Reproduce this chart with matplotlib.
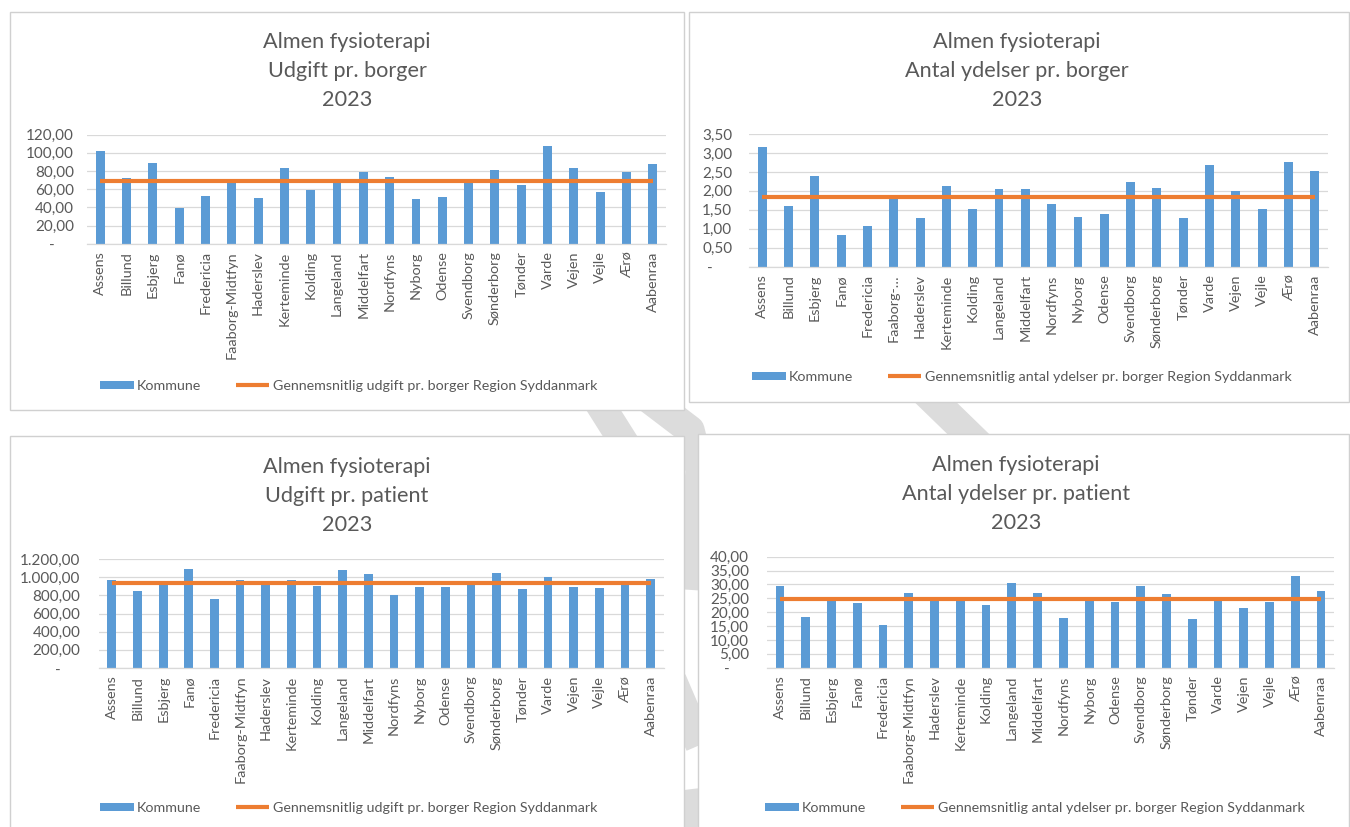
import matplotlib
matplotlib.use("Agg")
import matplotlib.pyplot as plt
from matplotlib.patches import Rectangle
from matplotlib.lines import Line2D

plt.rcParams['font.family'] = ['Lato', 'DejaVu Sans']

# ---------------- data ----------------
kommuner = ["Assens", "Billund", "Esbjerg", "Fanø", "Fredericia", "Faaborg-Midtfyn",
            "Haderslev", "Kerteminde", "Kolding", "Langeland", "Middelfart", "Nordfyns",
            "Nyborg", "Odense", "Svendborg", "Sønderborg", "Tønder", "Varde", "Vejen",
            "Vejle", "Ærø", "Aabenraa"]
kommuner_kort = ["Assens", "Billund", "Esbjerg", "Fanø", "Fredericia", "Faaborg-…",
                 "Haderslev", "Kerteminde", "Kolding", "Langeland", "Middelfart", "Nordfyns",
                 "Nyborg", "Odense", "Svendborg", "Sønderborg", "Tønder", "Varde", "Vejen",
                 "Vejle", "Ærø", "Aabenraa"]

udgift_borger = [102.4, 72.5, 88.6, 39.8, 52.3, 68.5, 50.5, 83.4, 58.8, 68.0, 78.7,
                 73.2, 48.9, 51.2, 68.2, 81.6, 64.3, 107.8, 83.4, 57.0, 78.7, 87.8]
gns_udgift_borger = 69.4

ydelser_borger = [3.15, 1.59, 2.38, 0.84, 1.07, 1.84, 1.29, 2.12, 1.51, 2.06, 2.06,
                  1.66, 1.32, 1.40, 2.23, 2.08, 1.29, 2.69, 1.99, 1.53, 2.77, 2.52]
gns_ydelser_borger = 1.83

udgift_patient = [965, 850, 935, 1088, 762, 967, 945, 967, 905, 1076, 1033, 806,
                  897, 887, 930, 1051, 868, 1007, 895, 878, 938, 978]
gns_udgift_patient = 939

ydelser_patient = [29.6, 18.3, 24.6, 23.3, 15.3, 26.9, 24.8, 24.6, 22.7, 30.5, 26.9,
                   18.0, 24.7, 23.8, 29.3, 26.6, 17.5, 24.8, 21.6, 23.8, 33.2, 27.8]
gns_ydelser_patient = 24.7

titler = ["Almen fysioterapi\nUdgift pr. borger\n2023",
          "Almen fysioterapi\nAntal ydelser pr. borger\n2023",
          "Almen fysioterapi\nUdgift pr. patient\n2023",
          "Almen fysioterapi\nAntal ydelser pr. patient\n2023"]
legend_bar = "Kommune"
legend_linjer = ["Gennemsnitlig udgift pr. borger Region Syddanmark",
                 "Gennemsnitlig antal ydelser pr. borger Region Syddanmark",
                 "Gennemsnitlig udgift pr. borger Region Syddanmark",
                 "Gennemsnitlig antal ydelser pr. borger Region Syddanmark"]
y_ticks = [[0, 20, 40, 60, 80, 100, 120],
           [0, 0.5, 1.0, 1.5, 2.0, 2.5, 3.0, 3.5],
           [0, 200, 400, 600, 800, 1000, 1200],
           [0, 5, 10, 15, 20, 25, 30, 35, 40]]

# ---------------- style ----------------
W, H = 1350, 827
BLUE = "#5B9BD5"
ORANGE = "#ED7D31"
GRID = "#D9D9D9"
TXT = "#595959"
BORDER = "#D0D0D0"
WM = "#DCDCDC"

fig = plt.figure(figsize=(W / 100, H / 100), dpi=100)
fig.patch.set_facecolor("white")


def fx(x):
    return x / W


def fy(y):
    return 1 - y / H


def fmt_dk(v):
    if v == 0:
        return "-     "
    s = f"{v:,.2f}"
    return s.replace(",", "X").replace(".", ",").replace("X", ".")


# decorative watermark arc (visible only in the gaps between the panels)
wm_paths = [
    [(594, 395), (630, 452)],
    [(640, 392), (690, 430), (700, 470), (692, 590)],
    [(925, 392), (995, 460)],
    [(672, 680), (700, 745)],
    [(684, 790), (690, 840)],
]
for p in wm_paths:
    xs = [fx(a) for a, b in p]
    ys = [fy(b) for a, b in p]
    fig.add_artist(Line2D(xs, ys, color=WM, lw=21, solid_capstyle="butt",
                          solid_joinstyle="round", zorder=0.2,
                          transform=fig.transFigure))

panels = [
    dict(box=(10, 12, 684, 410), ax=(87, 666, 134.7, 243.7), tx=347, ty=44,
         ly=386, lx=100, data=udgift_borger, gns=gns_udgift_borger,
         cats=kommuner, ypad=9.5),
    dict(box=(689, 12, 1349, 402), ax=(749, 1328, 134, 266.7), tx=1017, ty=44,
         ly=377, lx=752, data=ydelser_borger, gns=gns_ydelser_borger,
         cats=kommuner_kort, ypad=12),
    dict(box=(10, 436, 684, 830), ax=(99, 663.5, 559, 668), tx=347, ty=469,
         ly=808, lx=100, data=udgift_patient, gns=gns_udgift_patient,
         cats=kommuner, ypad=13.5),
    dict(box=(698, 434, 1349, 830), ax=(767, 1334, 556.7, 667.7), tx=1016, ty=467,
         ly=808, lx=765, data=ydelser_patient, gns=gns_ydelser_patient,
         cats=kommuner, ypad=13),
]

for i, P in enumerate(panels):
    x0, y0, x1, y1 = P["box"]
    fig.add_artist(Rectangle((fx(x0), fy(y1)), fx(x1) - fx(x0), fy(y0) - fy(y1),
                             transform=fig.transFigure, facecolor="white",
                             edgecolor=BORDER, lw=1.0, zorder=1))
    l, r, t, b = P["ax"]
    ax = fig.add_axes([fx(l), fy(b), fx(r) - fx(l), fy(t) - fy(b)])
    ax.set_zorder(3)
    ax.patch.set_visible(False)
    n = len(P["cats"])
    xpos = list(range(n))
    bars = ax.bar(xpos, P["data"], width=0.34, color=BLUE, zorder=2, label=legend_bar)
    line, = ax.plot([xpos[0], xpos[-1]], [P["gns"], P["gns"]], color=ORANGE, lw=3.0,
                    zorder=3, solid_capstyle="butt", label=legend_linjer[i])
    ax.set_xlim(-0.5, n - 0.5)
    yt = y_ticks[i]
    ax.set_ylim(yt[0], yt[-1])
    ax.set_yticks(yt)
    ax.set_yticklabels([fmt_dk(v) for v in yt])
    ax.set_xticks(xpos)
    ax.set_xticklabels(P["cats"], rotation=90)
    ax.grid(axis="y", color=GRID, lw=0.9, zorder=0)
    ax.set_axisbelow(True)
    for s in ["top", "right", "left"]:
        ax.spines[s].set_visible(False)
    ax.spines["bottom"].set_color(GRID)
    ax.spines["bottom"].set_linewidth(0.9)
    ax.tick_params(axis="both", length=0, colors=TXT)
    ax.tick_params(axis="y", labelsize=11, pad=P["ypad"])
    ax.tick_params(axis="x", labelsize=10.4, pad=5.5)

    # title
    fig.text(fx(P["tx"]), fy(P["ty"] - 12), titler[i], ha="center", va="top",
             fontsize=15.6, color=TXT, linespacing=1.55)

    # legend
    ax.legend(handles=[bars, line], loc="center left",
              bbox_to_anchor=(fx(P["lx"]), fy(P["ly"])),
              bbox_transform=fig.transFigure, ncol=2, frameon=False,
              fontsize=10.3, borderpad=0, borderaxespad=0,
              handlelength=2.35, handleheight=0.5, handletextpad=0.25,
              columnspacing=2.4, labelcolor=TXT)

fig.savefig("out.png", dpi=100, facecolor="white")
